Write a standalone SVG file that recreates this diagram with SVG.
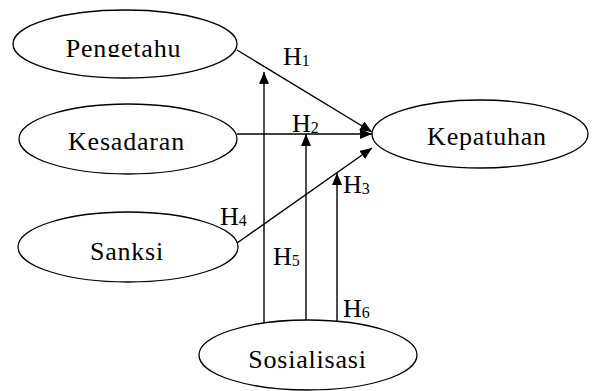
<svg xmlns="http://www.w3.org/2000/svg" width="592" height="391" viewBox="0 0 592 391">
  <style>
    .node ellipse { fill: #ffffff; stroke: #000000; stroke-width: 1.3; }
    .node text { font-family: "Liberation Serif", "Times New Roman", serif; font-size: 26px; fill: #000; text-anchor: middle; letter-spacing: 0.8px; }
    .conn line { stroke: #000000; stroke-width: 1.4; }
    .lbl { font-family: "Liberation Serif", "Times New Roman", serif; font-size: 26px; fill: #000; }
    .sub { font-size: 16px; }
  </style>
  <defs>
    <marker id="arr" markerUnits="userSpaceOnUse" markerWidth="13" markerHeight="11" refX="12" refY="5" orient="auto">
      <path d="M0,0 L12,5 L0,10 z" fill="#000"/>
    </marker>
    <clipPath id="clipP"><rect x="0" y="0" width="592" height="57"/></clipPath>
  </defs>
  <rect width="592" height="391" fill="#ffffff"/>

  <g class="conn" id="connectors">
    <line x1="237" y1="50" x2="372" y2="132" marker-end="url(#arr)"/>
    <line x1="237" y1="134" x2="372" y2="134" marker-end="url(#arr)"/>
    <line x1="237" y1="243" x2="372" y2="148" marker-end="url(#arr)"/>
    <line x1="264" y1="323" x2="264" y2="72" marker-end="url(#arr)"/>
    <line x1="306" y1="321" x2="306" y2="134" marker-end="url(#arr)"/>
    <line x1="337" y1="322" x2="337" y2="173" marker-end="url(#arr)"/>
  </g>

  <g id="node-pengetahu" class="node">
    <ellipse cx="125" cy="44" rx="112" ry="34"/>
    <text x="123.5" y="57" clip-path="url(#clipP)">Pengetahu</text>
  </g>
  <g id="node-kesadaran" class="node">
    <ellipse cx="128" cy="139" rx="109" ry="35"/>
    <text x="126.5" y="150">Kesadaran</text>
  </g>
  <g id="node-sanksi" class="node">
    <ellipse cx="128" cy="247" rx="110" ry="35"/>
    <text x="127" y="260">Sanksi</text>
  </g>
  <g id="node-kepatuhan" class="node">
    <ellipse cx="480" cy="134" rx="108" ry="34"/>
    <text x="487" y="145">Kepatuhan</text>
  </g>
  <g id="node-sosialisasi" class="node">
    <ellipse cx="308" cy="355" rx="109" ry="35"/>
    <text x="307.5" y="368">Sosialisasi</text>
  </g>

  <g id="labels">
    <text class="lbl" x="283" y="65">H<tspan class="sub" dy="1">1</tspan></text>
    <text class="lbl" x="292" y="132">H<tspan class="sub" dy="1">2</tspan></text>
    <text class="lbl" x="343" y="193">H<tspan class="sub" dy="1">3</tspan></text>
    <text class="lbl" x="220" y="225">H<tspan class="sub" dy="1">4</tspan></text>
    <text class="lbl" x="273" y="265">H<tspan class="sub" dy="1">5</tspan></text>
    <text class="lbl" x="343" y="317">H<tspan class="sub" dy="1">6</tspan></text>
  </g>
</svg>
